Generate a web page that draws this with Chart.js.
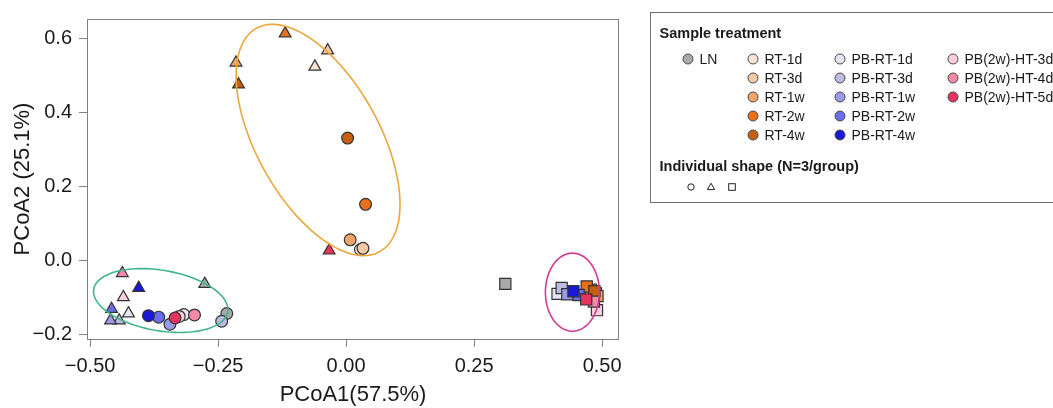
<!DOCTYPE html>
<html>
<head>
<meta charset="utf-8">
<title>PCoA</title>
<script src="https://cdn.jsdelivr.net/npm/chart.js@4.4.1/dist/chart.umd.min.js"></script>
<style>
    html, body { margin: 0; padding: 0; background: #fff; overflow: hidden; }
    #wrap { position: relative; width: 1053px; height: 408px; }
    #chart { position: absolute; left: 0; top: 0; }
    #legend {
        position: absolute; left: 650px; top: 12px; width: 440px; height: 189px;
        border: 1.5px solid #707070;
        font-family: "Liberation Sans", Arial, sans-serif; color: #1a1a1a;
    }
    #legend .item { position: absolute; white-space: nowrap; transform: translateY(-50%); line-height: 16px; }
    #legend .head { font-weight: bold; font-size: 14.5px; }
    #legend .label { font-size: 14px; }
    #legend svg { position: absolute; transform: translate(-50%, -50%); overflow: visible; }
</style>
</head>
<body>
<div id="wrap">
    <canvas id="chart" width="1053" height="408"></canvas>
    <div id="legend"></div>
</div>
<script>
// groups (one colour each), 3 individuals per group: circle, triangle, square
const groups = ['LN', 'RT-1d', 'RT-3d', 'RT-1w', 'RT-2w', 'RT-4w',
    'PB-RT-1d', 'PB-RT-3d', 'PB-RT-1w', 'PB-RT-2w', 'PB-RT-4w',
    'PB(2w)-HT-3d', 'PB(2w)-HT-4d', 'PB(2w)-HT-5d'];
const groupColors = ['#a9a9a9', '#fbe4d4', '#f6c8a4', '#f3a468', '#e8701c', '#c65f10',
    '#e6e6f5', '#bcbce2', '#9a9aea', '#6c6cee', '#1818d6',
    '#fbcfdc', '#f38aa8', '#e6345e'];

const circleX = [-0.233, 0.028, 0.033, 0.008, 0.038, 0.003, -0.317, -0.243, -0.344, -0.366, -0.386, -0.326, -0.296, -0.334];
const circleY = [-0.142, 0.031, 0.034, 0.057, 0.153, 0.332, -0.145, -0.163, -0.171, -0.152, -0.148, -0.150, -0.146, -0.154];
const triangleX = [-0.276, -0.061, -0.036, -0.215, -0.119, -0.210, -0.425, -0.443, -0.460, -0.458, -0.405, -0.435, -0.437, -0.033];
const triangleY = [-0.062, 0.525, 0.569, 0.536, 0.615, 0.477, -0.142, -0.161, -0.161, -0.130, -0.073, -0.098, -0.033, 0.028];
const squareX = [0.311, 0.478, 0.488, 0.491, 0.470, 0.485, 0.413, 0.421, 0.432, 0.454, 0.444, 0.490, 0.484, 0.469];
const squareY = [-0.062, -0.078, -0.088, -0.095, -0.069, -0.082, -0.089, -0.073, -0.090, -0.092, -0.082, -0.133, -0.110, -0.104];

const xTicks = [-0.5, -0.25, 0, 0.25, 0.5];
const yTicks = [-0.2, 0, 0.2, 0.4, 0.6];

// cluster ellipses: centre and two half-axis vectors, in data units
const ellipseCx = [-0.0547, -0.362, 0.442];
const ellipseCy = [0.327, -0.107, -0.0844];
const ellipseAx = [0.119, 0.1308, 0.0527];
const ellipseAy = [-0.303, -0.0311, 0];
const ellipseBx = [-0.107, -0.0105, 0];
const ellipseBy = [-0.0768, -0.0805, -0.1055];
const ellipseColors = ['#eba63a', '#3fb58c', '#d23a92'];

const FONT = '"Liberation Sans", Arial, sans-serif';
const TEXT = '#1a1a1a';
const AXIS = '#808080';

function fmt(v, d) {
    return v.toFixed(d).replace('-', '\u2212');
}

const datasets = groups.map((g, i) => ({
    label: g,
    data: [
        { x: circleX[i], y: circleY[i] },
        { x: triangleX[i], y: triangleY[i] },
        { x: squareX[i], y: squareY[i] }
    ],
    pointStyle: ['circle', 'triangle', 'rect'],
    pointRadius: [5.9, 6.8, 7.9],
    backgroundColor: groupColors[i],
    borderColor: '#333333',
    borderWidth: 1.2,
    order: groups.length - i
}));

const framePlugin = {
    id: 'frame',
    beforeDatasetsDraw(chart) {
        const { ctx, chartArea: a } = chart;
        ctx.save();
        ctx.strokeStyle = AXIS;
        ctx.lineWidth = 1;
        ctx.strokeRect(a.left + 0.5, a.top + 0.5, a.right - a.left - 1, a.bottom - a.top);
        ctx.restore();
    }
};

const ellipsePlugin = {
    id: 'ellipses',
    afterDatasetsDraw(chart) {
        const { ctx, scales } = chart;
        ctx.save();
        ctx.lineWidth = 1.6;
        ellipseCx.forEach((cx, k) => {
            ctx.beginPath();
            for (let s = 0; s <= 120; s++) {
                const t = s / 120 * Math.PI * 2;
                const x = cx + Math.cos(t) * ellipseAx[k] + Math.sin(t) * ellipseBx[k];
                const y = ellipseCy[k] + Math.cos(t) * ellipseAy[k] + Math.sin(t) * ellipseBy[k];
                const px = scales.x.getPixelForValue(x);
                const py = scales.y.getPixelForValue(y);
                if (s === 0) ctx.moveTo(px, py); else ctx.lineTo(px, py);
            }
            ctx.strokeStyle = ellipseColors[k];
            ctx.stroke();
        });
        ctx.restore();
    }
};

new Chart(document.getElementById('chart'), {
    type: 'scatter',
    data: { datasets: datasets },
    options: {
        responsive: false,
        devicePixelRatio: 1,
        animation: false,
        events: [],
        layout: { padding: { left: 0, top: 11, right: 434, bottom: 0 } },
        plugins: { legend: { display: false }, tooltip: { enabled: false } },
        scales: {
            x: {
                type: 'linear',
                min: -0.506,
                max: 0.533,
                afterBuildTicks: s => { s.ticks = xTicks.map(v => ({ value: v })); },
                afterFit: s => { s.height = 69; },
                ticks: {
                    callback: v => fmt(v, 2),
                    font: { family: FONT, size: 20 },
                    color: TEXT,
                    padding: 7,
                    maxRotation: 0,
                    autoSkip: false
                },
                grid: { drawOnChartArea: false, tickLength: 8, color: AXIS },
                border: { display: false },
                title: {
                    display: true,
                    text: 'PCoA1(57.5%)',
                    font: { family: FONT, size: 22 },
                    color: TEXT,
                    padding: { top: 0, bottom: 0 }
                }
            },
            y: {
                type: 'linear',
                min: -0.211,
                max: 0.654,
                afterBuildTicks: s => { s.ticks = yTicks.map(v => ({ value: v })); },
                afterFit: s => { s.width = 87; },
                ticks: {
                    callback: v => fmt(v, 1),
                    font: { family: FONT, size: 20 },
                    color: TEXT,
                    padding: 7,
                    autoSkip: false
                },
                grid: { drawOnChartArea: false, tickLength: 8, color: AXIS },
                border: { display: false },
                title: {
                    display: true,
                    text: 'PCoA2 (25.1%)',
                    font: { family: FONT, size: 22 },
                    color: TEXT,
                    padding: { top: 10, bottom: 0 }
                }
            }
        }
    },
    plugins: [framePlugin, ellipsePlugin]
});

// legend
const legend = document.getElementById('legend');
const colX = [36.5, 101.5, 188.5, 301.5];
const rowY = [46, 65, 84, 103, 121.5];

function addText(text, cls, left, top) {
    const el = document.createElement('div');
    el.className = 'item ' + cls;
    el.style.left = left + 'px';
    el.style.top = top + 'px';
    el.textContent = text;
    legend.appendChild(el);
}

function addShape(inner, left, top) {
    const ns = 'http://www.w3.org/2000/svg';
    const svg = document.createElementNS(ns, 'svg');
    svg.setAttribute('width', 12);
    svg.setAttribute('height', 12);
    svg.setAttribute('viewBox', '-6 -6 12 12');
    svg.style.left = left + 'px';
    svg.style.top = top + 'px';
    svg.innerHTML = inner;
    legend.appendChild(svg);
}

addText('Sample treatment', 'head', 8.5, 20);
groups.forEach((g, i) => {
    let col, row;
    if (g === 'LN') { col = 0; row = 0; }
    else if (g.startsWith('RT')) { col = 1; row = i - 1; }
    else if (g.startsWith('PB-RT')) { col = 2; row = i - 6; }
    else { col = 3; row = i - 11; }
    addShape('<circle r="5" fill="' + groupColors[i] + '" stroke="#4a4a4a" stroke-width="1"/>', colX[col], rowY[row]);
    addText(g, 'label', colX[col] + 12, rowY[row]);
});
addText('Individual shape (N=3/group)', 'head', 8.5, 153);
addShape('<circle r="3.2" fill="none" stroke="#222" stroke-width="1"/>', 39.5, 174);
addShape('<polygon points="0,-3.8 3.6,2.6 -3.6,2.6" fill="none" stroke="#222" stroke-width="1"/>', 59.5, 174);
addShape('<rect x="-3.3" y="-3.3" width="6.6" height="6.6" fill="none" stroke="#222" stroke-width="1"/>', 80.5, 174);
</script>
</body>
</html>
